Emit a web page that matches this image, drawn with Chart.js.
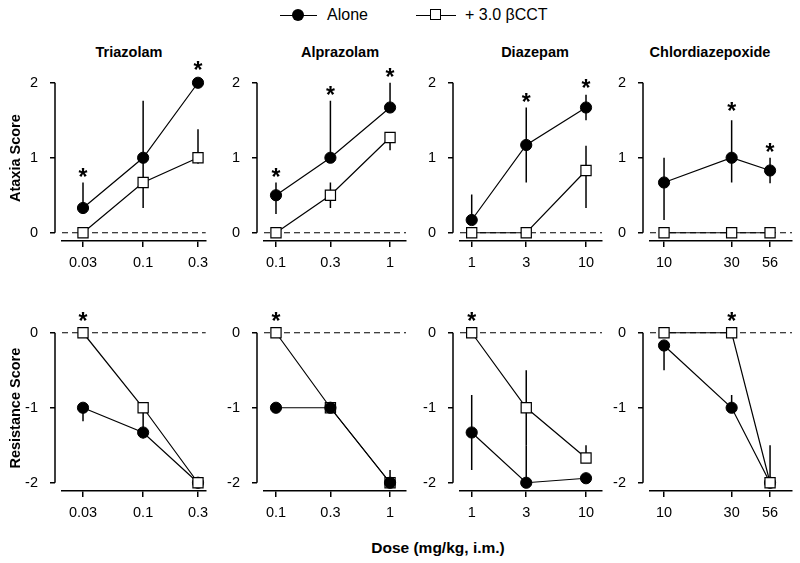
<!DOCTYPE html>
<html>
<head>
<meta charset="utf-8">
<script src="https://cdn.jsdelivr.net/npm/chart.js@4.4.1/dist/chart.umd.min.js"></script>
<style>
  body { margin: 0; background: #fff; font-family: "Liberation Sans", Arial, sans-serif; color: #000; }
  #wrap { position: relative; width: 800px; height: 563px; overflow: hidden; }
  canvas { position: absolute; }
  .lbl { position: absolute; white-space: nowrap; transform: translate(-50%, -50%); font-weight: bold; font-size: 14.5px; }
  .leg { position: absolute; white-space: nowrap; font-size: 16px; line-height: 16px; top: 7px; }
  .legLine { position: absolute; height: 1.5px; background: #000; top: 14.5px; }
  .legDot { position: absolute; width: 12px; height: 12px; border-radius: 50%; background: #000; top: 9px; }
  .legBox { position: absolute; width: 9px; height: 9px; border: 1.2px solid #000; background: #fff; top: 9.3px; }
</style>
</head>
<body>
<div id="wrap">
  <div class="legLine" style="left:280px;width:37px"></div>
  <div class="legDot" style="left:292px"></div>
  <div class="leg" style="left:327px">Alone</div>
  <div class="legLine" style="left:416px;width:40px"></div>
  <div class="legBox" style="left:430px"></div>
  <div class="leg" style="left:465px">+ 3.0 βCCT</div>

  <div class="lbl" style="left:438px;top:548px;font-size:15.5px">Dose (mg/kg, i.m.)</div>
</div>
<script>
// ---- data ----
const drugNames = ['Triazolam', 'Alprazolam', 'Diazepam', 'Chlordiazepoxide'];
const drugDoses = [[0.03, 0.1, 0.3], [0.1, 0.3, 1], [1, 3, 10], [10, 30, 56]];

// Ataxia score (top row)
const ataxiaAlone     = [[0.33, 1.0, 2.0], [0.5, 1.0, 1.67], [0.17, 1.17, 1.67], [0.67, 1.0, 0.83]];
const ataxiaAloneUp   = [[0.34, 0.76, 0], [0.17, 0.76, 0.33], [0.34, 0.5, 0.17], [0.33, 0.5, 0.17]];
const ataxiaAloneDown = [[0, 0, 0], [0.25, 0, 0], [0, 0.5, 0.17], [0.5, 0.33, 0.17]];
const ataxiaCCT       = [[0, 0.67, 1.0], [0, 0.5, 1.27], [0, 0, 0.83], [0, 0, 0]];
const ataxiaCCTUp     = [[0, 0.33, 0.38], [0, 0.17, 0], [0, 0, 0.33], [0, 0, 0]];
const ataxiaCCTDown   = [[0, 0.34, 0.08], [0, 0.17, 0.17], [0, 0, 0.5], [0, 0, 0]];
const ataxiaStarDoses = [[0.03, 0.3], [0.1, 0.3, 1], [3, 10], [30, 56]];
const ataxiaStarY     = [[0.81, 2.24], [0.81, 1.9, 2.15], [1.81, 2.0], [1.69, 1.14]];
const ataxiaTicks = [0, 1, 2];

// Resistance score (bottom row)
const resistAlone     = [[-1.0, -1.33, -2.0], [-1.0, -1.0, -2.0], [-1.33, -2.0, -1.94], [-0.17, -1.0, -2.0]];
const resistAloneUp   = [[0, 0, 0], [0, 0, 0.17], [0.5, 0.5, 0], [0, 0.17, 0]];
const resistAloneDown = [[0.18, 0.08, 0], [0, 0, 0], [0.5, 0, 0], [0.33, 0, 0]];
const resistCCT       = [[0, -1.0, -2.0], [0, -1.0, -2.0], [0, -1.0, -1.67], [0, 0, -2.0]];
const resistCCTUp     = [[0, 0, 0], [0, 0, 0], [0, 0.5, 0.17], [0, 0, 0.5]];
const resistCCTDown   = [[0, 0.3, 0], [0, 0, 0], [0, 0.5, 0], [0, 0, 0]];
const resistStarDoses = [[0.03], [0.1], [1], [30]];
const resistStarY     = [[0.23], [0.23], [0.23], [0.22]];
const resistTicks = [0, -1, -2];

// ---- layout ----
const FONT = '"Liberation Sans", Arial, sans-serif';
const areaLefts = [62, 264, 460, 650];
const areaWidths = [143.7, 142, 142, 142];
const xRanges = [[0.0197, 0.35], [0.0785, 1.38], [0.79, 13.8], [7.96, 80]];
const titleCenters = [129, 340, 535, 710];

const rows = [
  { top: 40, yMin: -0.11, yMax: 2.1, ticks: ataxiaTicks, title: 'Ataxia Score',
    alone: ataxiaAlone, aloneUp: ataxiaAloneUp, aloneDown: ataxiaAloneDown,
    cct: ataxiaCCT, cctUp: ataxiaCCTUp, cctDown: ataxiaCCTDown,
    starX: ataxiaStarDoses, starY: ataxiaStarY, circlesOnTop: [] },
  { top: 290, yMin: -2.11, yMax: 0.1, ticks: resistTicks, title: 'Resistance Score',
    alone: resistAlone, aloneUp: resistAloneUp, aloneDown: resistAloneDown,
    cct: resistCCT, cctUp: resistCCTUp, cctDown: resistCCTDown,
    starX: resistStarDoses, starY: resistStarY, circlesOnTop: [1] }
];

// dashed zero line, offset y axis, error bars and asterisks
const panelDecor = {
  id: 'panelDecor',
  beforeDatasetsDraw(chart) {
    const { ctx, chartArea, scales: { x, y } } = chart;
    ctx.save();
    ctx.strokeStyle = '#000';

    const y0 = y.getPixelForValue(0);
    ctx.lineWidth = 1.2;
    ctx.setLineDash([6, 4]);
    ctx.beginPath();
    ctx.moveTo(chartArea.left, y0);
    ctx.lineTo(chartArea.right, y0);
    ctx.stroke();
    ctx.setLineDash([]);

    const ax = chartArea.left - 7;
    const tickPx = y.ticks.map(t => y.getPixelForValue(t.value));
    ctx.lineWidth = 1.5;
    ctx.beginPath();
    ctx.moveTo(ax, Math.min(...tickPx));
    ctx.lineTo(ax, Math.max(...tickPx));
    tickPx.forEach(p => { ctx.moveTo(ax - 5, p); ctx.lineTo(ax, p); });
    ctx.stroke();

    chart.data.datasets.forEach((ds, i) => {
      const meta = chart.getDatasetMeta(i);
      meta.data.forEach((pt, j) => {
        const v = ds.data[j].y;
        if (!ds.errUp[j] && !ds.errDown[j]) return;
        ctx.beginPath();
        ctx.moveTo(pt.x, y.getPixelForValue(v + ds.errUp[j]));
        ctx.lineTo(pt.x, y.getPixelForValue(v - ds.errDown[j]));
        ctx.stroke();
      });
    });
    ctx.restore();
  },
  afterDatasetsDraw(chart, args, opts) {
    const { ctx, scales: { x, y } } = chart;
    ctx.save();
    ctx.fillStyle = '#000';
    ctx.font = 'bold 23px ' + FONT;
    ctx.textAlign = 'center';
    ctx.textBaseline = 'alphabetic';
    opts.starX.forEach((d, k) => {
      ctx.fillText('*', x.getPixelForValue(d), y.getPixelForValue(opts.starY[k]) + 0.57 * 23);
    });
    ctx.restore();
  }
};

const wrap = document.getElementById('wrap');

rows.forEach((row, r) => {
  drugNames.forEach((name, c) => {
    if (r === 0) {
      const t = document.createElement('div');
      t.className = 'lbl';
      t.style.left = titleCenters[c] + 'px';
      t.style.top = '52px';
      t.textContent = name;
      wrap.appendChild(t);
    }

    const canvasLeft = areaLefts[c] - 62;
    const canvasW = Math.round(62 + areaWidths[c] + 20);
    const padRight = canvasW - 62 - areaWidths[c];
    const canvas = document.createElement('canvas');
    canvas.width = canvasW;
    canvas.height = 241;
    canvas.style.left = canvasLeft + 'px';
    canvas.style.top = row.top + 'px';
    wrap.appendChild(canvas);

    const doses = drugDoses[c];
    const circlesTop = row.circlesOnTop.includes(c);

    new Chart(canvas, {
      type: 'line',
      data: {
        datasets: [
          {
            label: 'Alone',
            data: doses.map((d, i) => ({ x: d, y: row.alone[c][i] })),
            errUp: row.aloneUp[c], errDown: row.aloneDown[c],
            borderColor: '#000', borderWidth: 1.2,
            pointStyle: 'circle', pointRadius: 5.6,
            pointBackgroundColor: '#000', pointBorderColor: '#000', pointBorderWidth: 1,
            order: circlesTop ? 0 : 1, clip: false
          },
          {
            label: '+ 3.0 βCCT',
            data: doses.map((d, i) => ({ x: d, y: row.cct[c][i] })),
            errUp: row.cctUp[c], errDown: row.cctDown[c],
            borderColor: '#000', borderWidth: 1.2,
            pointStyle: 'rect', pointRadius: 7.2,
            pointBackgroundColor: '#fff', pointBorderColor: '#000', pointBorderWidth: 1.2,
            order: circlesTop ? 1 : 0, clip: false
          }
        ]
      },
      options: {
        responsive: false,
        animation: false,
        events: [],
        layout: { padding: { top: 35.25, right: padRight, left: 0, bottom: 0 } },
        plugins: {
          legend: { display: false },
          tooltip: { enabled: false },
          panelDecor: { starX: row.starX[c], starY: row.starY[c] }
        },
        scales: {
          x: {
            type: 'logarithmic',
            min: xRanges[c][0],
            max: xRanges[c][1],
            afterBuildTicks: s => { s.ticks = doses.map(v => ({ value: v })); },
            afterFit: s => { s.height = 40; s.paddingLeft = 0; s.paddingRight = 0; },
            grid: { display: true, drawOnChartArea: false, drawTicks: true, tickLength: 6, color: '#000', lineWidth: 1.5 },
            border: { display: true, color: '#000', width: 1.5 },
            ticks: {
              autoSkip: false, maxRotation: 0, padding: 7.5, color: '#000',
              font: { family: FONT, size: 14.5 },
              callback: v => String(v)
            }
          },
          y: {
            type: 'linear',
            min: row.yMin,
            max: row.yMax,
            afterBuildTicks: s => { s.ticks = row.ticks.map(v => ({ value: v })); },
            afterFit: s => { s.width = 62; s.paddingTop = 0; s.paddingBottom = 0; },
            grid: { display: false, drawTicks: false },
            border: { display: false },
            ticks: { padding: 24, color: '#000', font: { family: FONT, size: 14.5 } },
            title: {
              display: c === 0,
              text: row.title,
              color: '#000',
              padding: { top: 7.3, bottom: 0 },
              font: { family: FONT, size: 14.5, weight: 'bold' }
            }
          }
        }
      },
      plugins: [panelDecor]
    });
  });
});
</script>
</body>
</html>
